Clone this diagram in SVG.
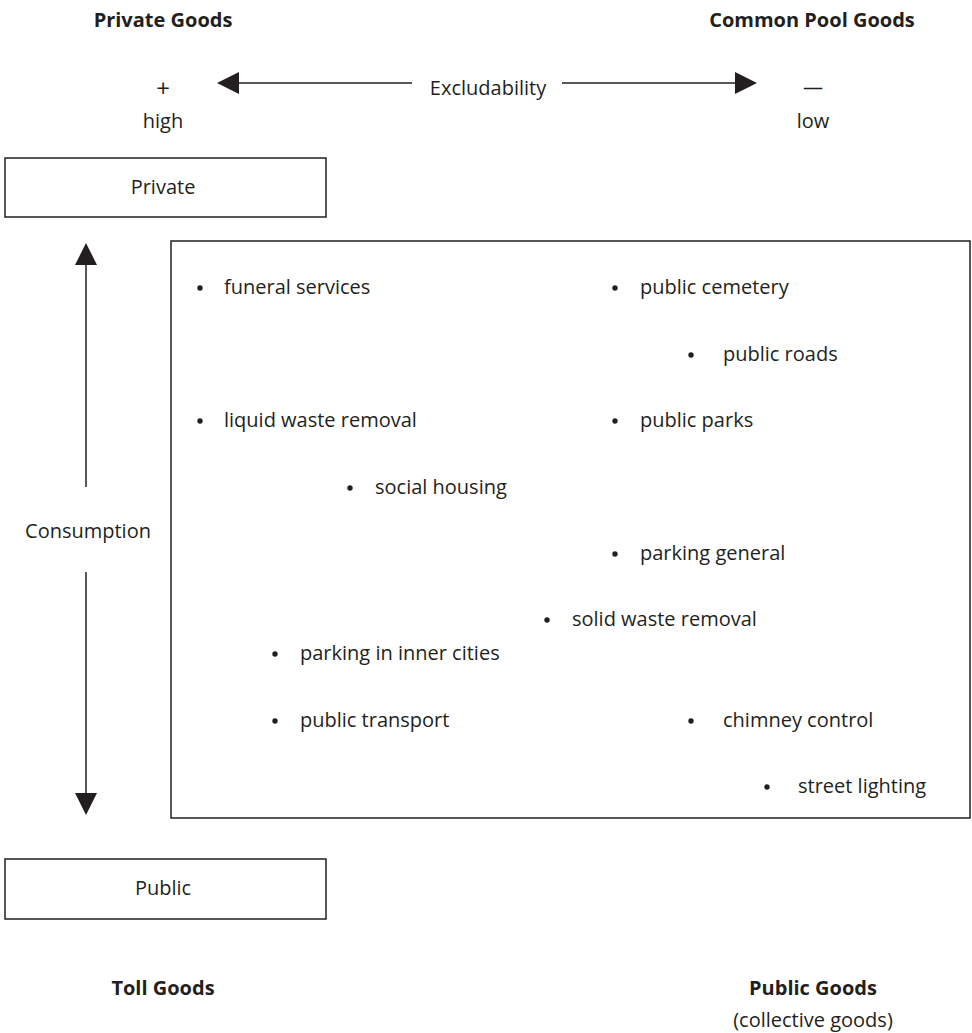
<svg xmlns="http://www.w3.org/2000/svg" width="972" height="1033" viewBox="0 0 972 1033">
<style>
text{font-family:"Open Sans","Noto Sans","Liberation Sans",sans-serif;font-size:20px;fill:#231f20}
.b{font-weight:bold}
.c{text-anchor:middle}
.box{fill:none;stroke:#231f20;stroke-width:1.5}
.ln{stroke:#231f20;stroke-width:1.5;fill:none}
.ah{fill:#231f20}
.dot{fill:#231f20}
</style>
<rect width="972" height="1033" fill="#fff"/>
<g id="labels">
<text class="b c" x="163" y="27">Private Goods</text>
<text class="b c" x="812" y="27">Common Pool Goods</text>
<text class="c" x="163" y="97" style="font-size:24px">+</text>
<text class="c" x="163" y="128">high</text>
<text class="c" x="813" y="94">—</text>
<text class="c" x="813" y="128">low</text>
<text class="c" x="488" y="95">Excludability</text>
<text class="c" x="88" y="538">Consumption</text>
<text class="b c" x="163" y="995">Toll Goods</text>
<text class="b c" x="813" y="995">Public Goods</text>
<text class="c" x="813" y="1027">(collective goods)</text>
</g>
<g id="connectors">
<line class="ln" x1="238" y1="83" x2="412" y2="83"/>
<polygon class="ah" points="217,83 239,72 239,94"/>
<line class="ln" x1="562" y1="83" x2="737" y2="83"/>
<polygon class="ah" points="757,83 735,72 735,94"/>
<line class="ln" x1="86" y1="264" x2="86" y2="487"/>
<polygon class="ah" points="86,243 75,265 97,265"/>
<line class="ln" x1="86" y1="572" x2="86" y2="794"/>
<polygon class="ah" points="86,815 75,793 97,793"/>
</g>
<g id="private">
<rect class="box" x="5" y="158" width="321" height="59"/>
<text class="c" x="163" y="194">Private</text>
</g>
<g id="public">
<rect class="box" x="5" y="859" width="321" height="60"/>
<text class="c" x="163" y="895">Public</text>
</g>
<g id="goods">
<rect class="box" x="171" y="241" width="799" height="577"/>
<circle class="dot" cx="200" cy="288" r="2.7"/><text x="224" y="294">funeral services</text>
<circle class="dot" cx="615" cy="288" r="2.7"/><text x="640" y="294">public cemetery</text>
<circle class="dot" cx="691" cy="355" r="2.7"/><text x="723" y="361">public roads</text>
<circle class="dot" cx="200" cy="421" r="2.7"/><text x="224" y="427">liquid waste removal</text>
<circle class="dot" cx="615" cy="421" r="2.7"/><text x="640" y="427">public parks</text>
<circle class="dot" cx="350" cy="488" r="2.7"/><text x="375" y="494">social housing</text>
<circle class="dot" cx="615" cy="554" r="2.7"/><text x="640" y="560">parking general</text>
<circle class="dot" cx="547" cy="620" r="2.7"/><text x="572" y="626">solid waste removal</text>
<circle class="dot" cx="275" cy="654" r="2.7"/><text x="300" y="660">parking in inner cities</text>
<circle class="dot" cx="275" cy="721" r="2.7"/><text x="300" y="727">public transport</text>
<circle class="dot" cx="691" cy="721" r="2.7"/><text x="723" y="727">chimney control</text>
<circle class="dot" cx="767" cy="787" r="2.7"/><text x="798" y="793">street lighting</text>
</g>
</svg>
